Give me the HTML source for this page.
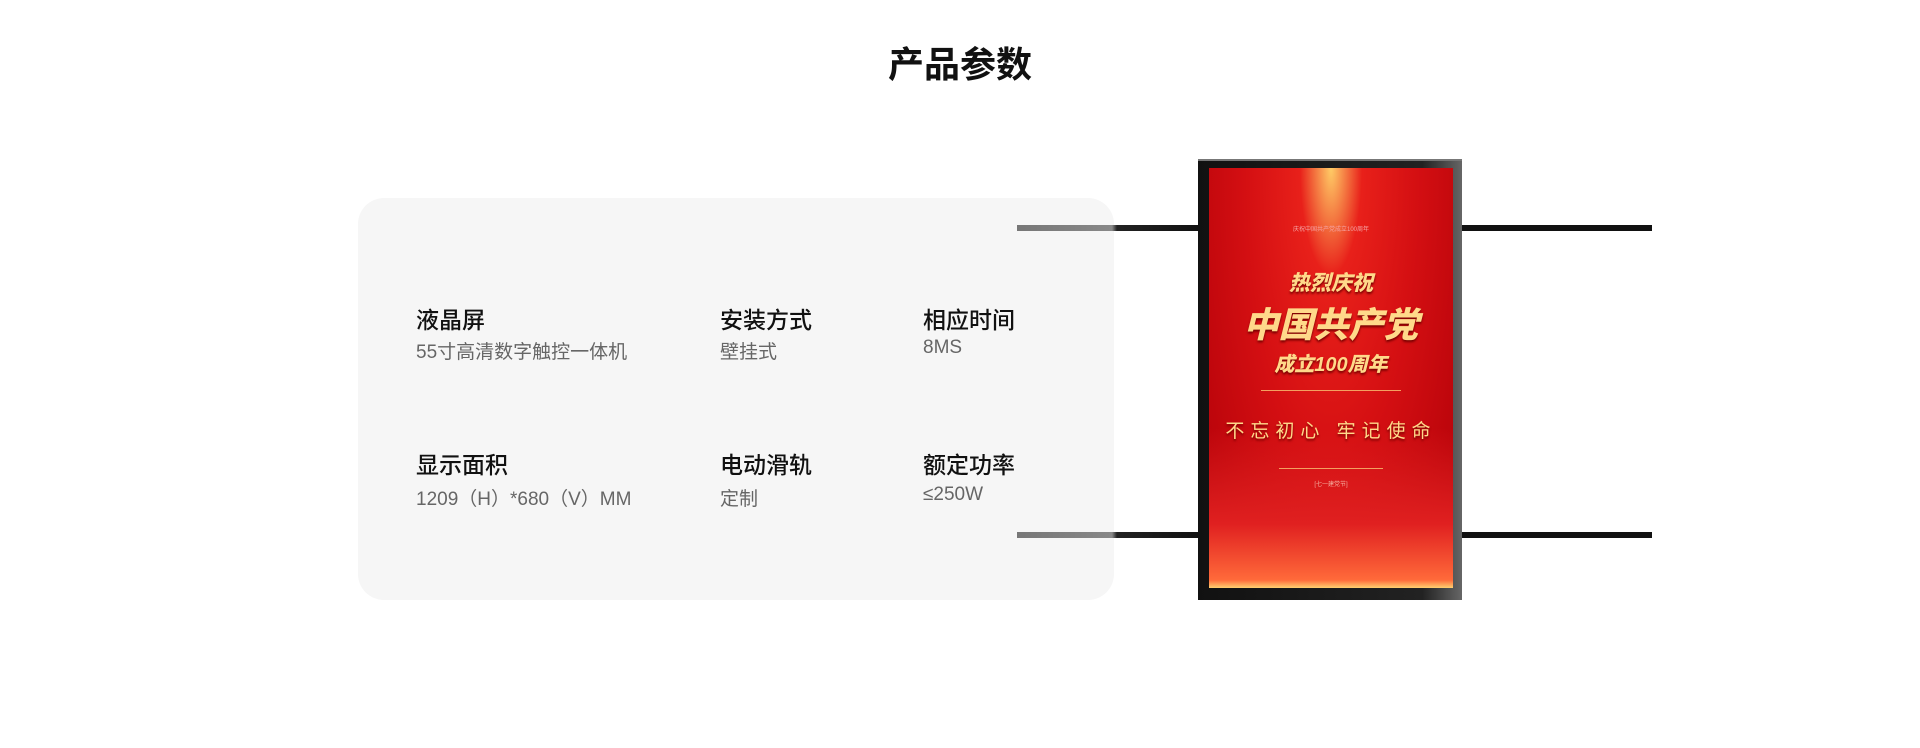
<!DOCTYPE html>
<html><head><meta charset="utf-8"><style>
body{margin:0;width:1920px;height:748px;background:#fff;position:relative;overflow:hidden;font-family:"Liberation Sans","Noto Sans CJK SC",sans-serif}
.a{position:absolute}
.t{font-size:36px;font-weight:bold;color:#111;left:0;width:1920px;text-align:center;top:36px}
.box{left:358px;top:198px;width:756px;height:402px;background:#f6f6f6;border-radius:26px}
.l{font-size:23px;color:#111;font-weight:500}
.v{font-size:19px;color:#666}
.rail{height:6px;background:#111}
.poster{left:1209px;top:168px;width:244px;height:420px;background:radial-gradient(ellipse at 50% 0%,#ffcc66 0,#e8201a 18%,#d40f12 50%,#b00008 100%);overflow:hidden;text-align:center}
.g{color:#ffd98a;font-weight:900;font-style:italic;text-shadow:0 2px 2px #7a0000;position:absolute;left:0;width:100%}
</style></head><body>
<div class="a t">产品参数</div>
<div class="a box"></div>
<div class="a l" style="left:416px;top:301px">液晶屏</div>
<div class="a v" style="left:416px;top:337px">55寸高清数字触控一体机</div>
<div class="a l" style="left:720px;top:301px">安装方式</div>
<div class="a v" style="left:720px;top:337px">壁挂式</div>
<div class="a l" style="left:923px;top:301px">相应时间</div>
<div class="a v" style="left:923px;top:337px">8MS</div>
<div class="a l" style="left:416px;top:446px">显示面积</div>
<div class="a v" style="left:416px;top:484px">1209（H）*680（V）MM</div>
<div class="a l" style="left:720px;top:446px">电动滑轨</div>
<div class="a v" style="left:720px;top:484px">定制</div>
<div class="a l" style="left:923px;top:446px">额定功率</div>
<div class="a v" style="left:923px;top:484px">≤250W</div>

<div class="a rail" style="left:1017px;top:225px;width:182px;background:linear-gradient(90deg,#777 0,#888 95px,#222 100px,#111 100%)"></div>
<div class="a rail" style="left:1017px;top:532px;width:182px;background:linear-gradient(90deg,#777 0,#888 95px,#222 100px,#111 100%)"></div>
<div class="a rail" style="left:1462px;top:225px;width:190px"></div>
<div class="a rail" style="left:1462px;top:532px;width:190px"></div>

<div class="a" style="left:1198px;top:159px;width:264px;height:441px;background:linear-gradient(90deg,#111,#222 85%,#666);border-top:2px solid #777;box-sizing:border-box"></div>
<div class="a poster">
 <div class="a" style="left:0;top:260px;width:244px;height:160px;background:linear-gradient(180deg,rgba(200,0,0,0),#e02020 60%,#ff6a3a 95%,#ffd070)"></div>
 <div class="a" style="left:0;top:56px;width:100%;font-size:6px;color:#f5a3a3">庆祝中国共产党成立100周年</div>
 <div class="g" style="top:99px;font-size:21px">热烈庆祝</div>
 <div class="g" style="top:129px;font-size:35px">中国共产党</div>
 <div class="g" style="top:180px;font-size:20px">成立100周年</div>
 <div class="a" style="left:52px;top:222px;width:140px;height:1px;background:#f3a060"></div>
 <div class="g" style="top:248px;font-size:19px;font-style:normal;font-weight:normal;letter-spacing:6px">不忘初心 牢记使命</div>
 <div class="a" style="left:70px;top:300px;width:104px;height:1px;background:#f3a060"></div>
 <div class="a" style="left:0;top:311px;width:100%;font-size:6px;color:#f5b0a0">[七一建党节]</div>
</div>
</body></html>
